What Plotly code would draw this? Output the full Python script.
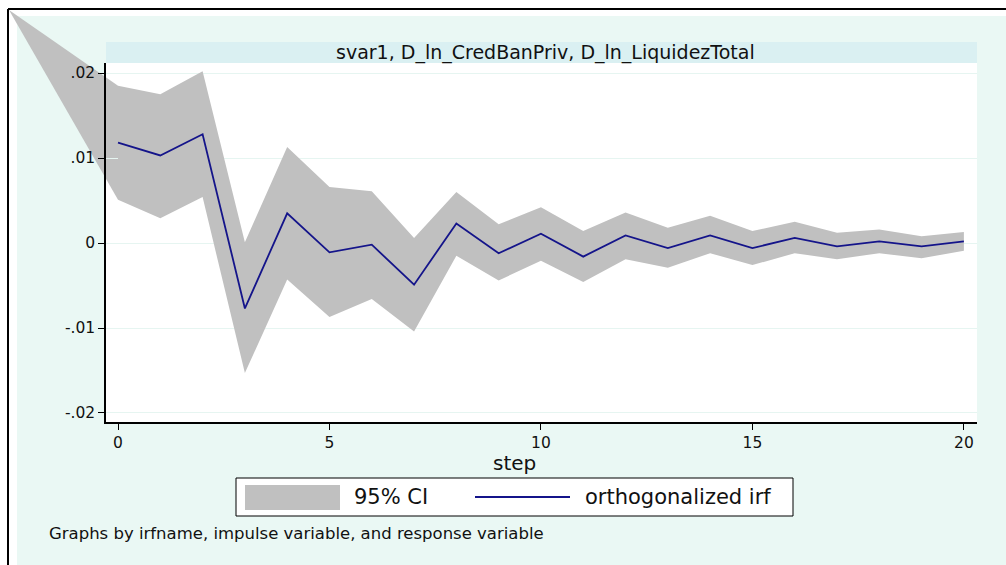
import plotly.graph_objects as go

# ---------------- data ----------------
steps = list(range(21))
irf = [0.0118, 0.0103, 0.0128, -0.0077, 0.0035, -0.0011, -0.0002, -0.0049, 0.0023,
       -0.0012, 0.0011, -0.0016, 0.0009, -0.0006, 0.0009, -0.0006, 0.0006, -0.0004,
       0.0002, -0.0004, 0.0002]
upper = [0.0185, 0.0175, 0.0202, 0.0001, 0.0113, 0.0066, 0.0061, 0.0006, 0.0060,
         0.0022, 0.0042, 0.0014, 0.0036, 0.0018, 0.0032, 0.0014, 0.0025, 0.0012,
         0.0016, 0.0008, 0.0013]
lower = [0.0051, 0.0029, 0.0054, -0.0153, -0.0043, -0.0087, -0.0066, -0.0104, -0.0015,
         -0.0044, -0.0021, -0.0046, -0.0019, -0.0029, -0.0012, -0.0026, -0.0012, -0.0019,
         -0.0012, -0.0018, -0.0009]
ytick_vals = [-0.02, -0.01, 0, 0.01, 0.02]
ytick_text = ["-.02", "-.01", "0", ".01", ".02"]
xtick_vals = [0, 5, 10, 15, 20]
panel_title = "svar1, D_ln_CredBanPriv, D_ln_LiquidezTotal"
x_title = "step"
legend_labels = ["95% CI", "orthogonalized irf"]
note = "Graphs by irfname, impulse variable, and response variable"

# ---------------- layout geometry ----------------
W, H = 1006, 565
L, R, T, B = 106, 29, 63, 143
PW, PH = W - L - R, H - T - B
XR = [-0.284, 20.31]
YR = [-0.02106, 0.02118]

FONT = "DejaVu Sans"
MINT = "#EAF8F4"
BAND = "#DAF0F2"
GRAY = "#C0C0C0"
NAVY = "#14148A"


def px(xpix):
    return (xpix - L) / PW


def py(ypix):
    return (H - B - ypix) / PH


def dx(v):
    return (v - XR[0]) / (XR[1] - XR[0])


def dy(v):
    return (v - YR[0]) / (YR[1] - YR[0])


fig = go.Figure()

# confidence band
fig.add_trace(go.Scatter(
    x=steps + steps[::-1], y=upper + lower[::-1],
    fill="toself", fillcolor=GRAY, line=dict(width=0), mode="lines",
    hoverinfo="skip", showlegend=False))

# irf line
fig.add_trace(go.Scatter(
    x=steps, y=irf, mode="lines", line=dict(color=NAVY, width=1.8),
    showlegend=False))

shapes = []
# mint graph region
shapes.append(dict(type="rect", xref="paper", yref="paper", layer="below",
                   x0=px(17), x1=px(W + 5), y0=py(H + 5), y1=py(16),
                   fillcolor=MINT, line=dict(width=0)))
# white plot area
shapes.append(dict(type="rect", xref="paper", yref="paper", layer="below",
                   x0=0, x1=1, y0=0, y1=1, fillcolor="white", line=dict(width=0)))
# title band
shapes.append(dict(type="rect", xref="paper", yref="paper", layer="below",
                   x0=0, x1=1, y0=1, y1=py(42), fillcolor=BAND, line=dict(width=0)))
# rendering artefact of the CI polygon at step 0 (goes to the graph corner)
ax_, ay_ = px(9), py(10)
ux, uy = dx(steps[0]), dy(upper[0])
lx, ly = dx(steps[0]), dy(lower[0])
shapes.append(dict(type="path", xref="paper", yref="paper", layer="below",
                   path=f"M {ax_},{ay_} L {ux},{uy} L {lx},{ly} Z",
                   fillcolor=GRAY, line=dict(width=0)))
# outer black frame (top and left visible)
shapes.append(dict(type="line", xref="paper", yref="paper", layer="above",
                   x0=px(8), x1=px(W + 5), y0=py(9), y1=py(9),
                   line=dict(color="black", width=2)))
shapes.append(dict(type="line", xref="paper", yref="paper", layer="above",
                   x0=px(8), x1=px(8), y0=py(9), y1=py(H + 5),
                   line=dict(color="black", width=2)))
# manual legend
shapes.append(dict(type="rect", xref="paper", yref="paper", layer="above",
                   x0=px(236), x1=px(793), y0=py(516), y1=py(478),
                   fillcolor="white", line=dict(color="black", width=1)))
shapes.append(dict(type="rect", xref="paper", yref="paper", layer="above",
                   x0=px(245), x1=px(340), y0=py(510), y1=py(485),
                   fillcolor=GRAY, line=dict(width=0)))
shapes.append(dict(type="line", xref="paper", yref="paper", layer="above",
                   x0=px(475), x1=px(570), y0=py(497), y1=py(497),
                   line=dict(color=NAVY, width=1.8)))

annotations = [
    dict(text=panel_title, xref="paper", yref="paper", x=px(545), y=py(52.5),
         xanchor="center", yanchor="middle", showarrow=False,
         font=dict(family=FONT, size=19, color="#111")),
    dict(text=x_title, xref="paper", yref="paper", x=px(514), y=py(463),
         xanchor="center", yanchor="middle", showarrow=False,
         font=dict(family=FONT, size=20, color="#111")),
    dict(text=legend_labels[0], xref="paper", yref="paper", x=px(352), y=py(497),
         xanchor="left", yanchor="middle", showarrow=False,
         font=dict(family=FONT, size=21, color="#111")),
    dict(text=legend_labels[1], xref="paper", yref="paper", x=px(583), y=py(497),
         xanchor="left", yanchor="middle", showarrow=False,
         font=dict(family=FONT, size=21, color="#111")),
    dict(text=note, xref="paper", yref="paper", x=px(47), y=py(533),
         xanchor="left", yanchor="middle", showarrow=False,
         font=dict(family=FONT, size=16.5, color="#111")),
]

fig.update_layout(
    width=W, height=H,
    margin=dict(l=L, r=R, t=T, b=B, pad=0),
    paper_bgcolor="white", plot_bgcolor="rgba(0,0,0,0)",
    showlegend=False,
    shapes=shapes, annotations=annotations,
    xaxis=dict(range=XR, tickvals=xtick_vals, ticks="outside", ticklen=6,
               tickwidth=1.3, tickcolor="black", showline=True, linecolor="black",
               linewidth=1.5, showgrid=False, zeroline=False,
               tickfont=dict(family=FONT, size=15.5, color="#111")),
    yaxis=dict(range=YR, tickvals=ytick_vals, ticktext=ytick_text, ticks="outside",
               ticklen=6, tickwidth=1.3, tickcolor="black", showline=True,
               linecolor="black", linewidth=1.5, showgrid=True, gridcolor="#E6F5F1",
               gridwidth=1, zeroline=False,
               tickfont=dict(family=FONT, size=15.5, color="#111")),
)

fig.write_html("out.html")
